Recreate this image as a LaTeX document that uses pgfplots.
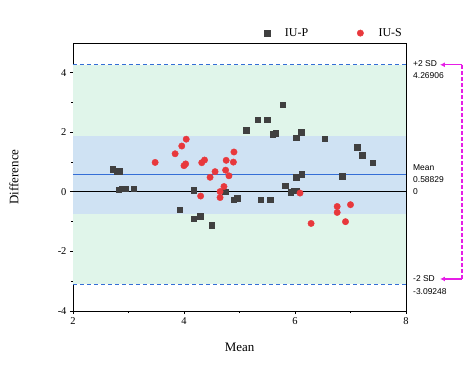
\documentclass[border=0pt]{standalone}
\usepackage{pgfplots}
\pgfplotsset{compat=1.18}
\usepackage{fontspec}
\setmainfont{Liberation Serif}
\newfontfamily\arial{Liberation Sans}
\usetikzlibrary{arrows.meta}
\definecolor{bggreen}{RGB}{224,245,234}
\definecolor{bgblue}{RGB}{207,226,243}
\definecolor{lineblue}{RGB}{52,110,214}
\definecolor{sqgray}{RGB}{64,64,64}
\definecolor{ptred}{RGB}{232,56,60}
\definecolor{mag}{RGB}{230,30,230}
\pgfplotstableread{
x y
2.715 0.757
2.79 0.67
2.83 0.70
2.82 0.07
2.88 0.10
2.94 0.11
3.09 0.10
3.92 -0.59
4.18 0.06
4.17 -0.91
4.29 -0.81
4.50 -1.12
4.74 0.01
4.90 -0.26
4.96 -0.21
5.12 2.07
5.33 2.42
5.50 2.42
5.78 2.93
5.60 1.94
5.65 1.97
5.38 -0.27
5.55 -0.26
5.82 0.20
5.92 -0.01
5.98 0.03
6.03 0.03
6.02 0.49
6.12 0.59
6.02 1.81
6.11 2.01
6.53 1.78
6.85 0.53
7.12 1.50
7.21 1.23
7.40 0.98
}\iup
\pgfplotstableread{
x y
3.48 0.99
3.84 1.28
3.96 1.54
4.04 1.77
4.00 0.88
4.03 0.94
4.30 -0.14
4.32 0.98
4.37 1.07
4.47 0.49
4.56 0.68
4.65 0.01
4.65 -0.19
4.72 0.18
4.76 1.06
4.75 0.73
4.81 0.54
4.89 1.00
4.90 1.34
6.09 -0.04
6.29 -1.06
6.76 -0.49
6.76 -0.69
7.00 -0.43
6.91 -1.00
}\ius
\begin{document}
\begin{tikzpicture}
\path[use as bounding box] (-73bp,-63bp) rectangle (401bp,311bp);
\begin{axis}[
  scale only axis, width=333bp, height=268bp,
  xmin=2, xmax=8, ymin=-4, ymax=5,
  xtick={2,4,6,8}, ytick={-4,-2,0,2,4},
  minor xtick={3,5,7}, minor ytick={-3,-1,1,3},
  tick align=outside, major tick length=3bp, minor tick length=2bp,
  xtick pos=bottom, ytick pos=left,
  axis line style={black, line width=0.9bp},
  tick style={black, line width=0.8bp},
  /pgf/number format/assume math mode=true,
  ticklabel style={font=\fontsize{10.5}{12}\selectfont},
  xlabel={Mean}, ylabel={Difference},
  label style={font=\fontsize{13}{15}\selectfont},
  xlabel style={at={([yshift=-36bp]axis description cs:0.5,0)}, anchor=center},
  ylabel style={at={([xshift=-59bp]axis description cs:0,0.5)}, anchor=center},
  clip=false,
  legend style={at={(1,1)}, anchor=south east, xshift=1bp, yshift=1bp, draw=none, fill=none,
    legend columns=2, font=\fontsize{12}{14}\selectfont,
    /tikz/every odd column/.append style={column sep=13bp},
    /tikz/every even column/.append style={column sep=47bp}},
  legend cell align=left,
]
\addplot[fill=bggreen, draw=none, forget plot] coordinates {(2,-3.09248) (2,4.26906) (8,4.26906) (8,-3.09248)} -- cycle;
\addplot[fill=bgblue, draw=none, forget plot] coordinates {(2,-0.75) (2,1.88) (8,1.88) (8,-0.75)} -- cycle;
\addplot[lineblue, dash pattern=on 4bp off 3bp, line width=0.8bp, forget plot] coordinates {(2,4.26906) (8,4.26906)};
\addplot[lineblue, dash pattern=on 4bp off 3bp, line width=0.8bp, forget plot] coordinates {(2,-3.09248) (8,-3.09248)};
\addplot[lineblue, line width=0.9bp, forget plot] coordinates {(2,0.58829) (8,0.58829)};
\addplot[black, line width=0.9bp, forget plot] coordinates {(2,0) (8,0)};
\addplot[only marks, mark=square*, mark size=2.7bp, mark options={fill=sqgray, draw=sqgray}] table {\iup};
\addlegendentry{IU-P}
\addplot[only marks, mark=*, mark size=3.2bp, mark options={fill=ptred, draw=ptred}] table {\ius};
\addlegendentry{IU-S}
% right-side annotations
\begin{scope}[every node/.style={font=\arial\fontsize{8.5}{10}\selectfont, anchor=west, inner sep=0pt}]
\node at ([xshift=7bp,yshift=1bp]axis cs:8,4.26906) {+2 SD};
\node at ([xshift=7bp,yshift=-11bp]axis cs:8,4.26906) {4.26906};
\node at ([xshift=7bp,yshift=7bp]axis cs:8,0.58829) {Mean};
\node at ([xshift=7bp,yshift=-5bp]axis cs:8,0.58829) {0.58829};
\node at ([xshift=7bp]axis cs:8,0) {0};
\node at ([xshift=7bp,yshift=5bp]axis cs:8,-3.09248) {-2 SD};
\node at ([xshift=7bp,yshift=-8bp]axis cs:8,-3.09248) {-3.09248};
\end{scope}
\draw[mag, line width=1.2bp, dash pattern=on 4bp off 2bp] ([xshift=56bp]axis cs:8,4.26906) -- ([xshift=56bp,yshift=5bp]axis cs:8,-3.09248);
\draw[mag, line width=1.2bp, -{Latex[length=5bp,width=5bp]}] ([xshift=56bp]axis cs:8,4.26906) -- ([xshift=34bp]axis cs:8,4.26906);
\draw[mag, line width=1.2bp, -{Latex[length=5bp,width=5bp]}] ([xshift=56bp,yshift=5bp]axis cs:8,-3.09248) -- ([xshift=34bp,yshift=5bp]axis cs:8,-3.09248);
\end{axis}
\end{tikzpicture}
\end{document}
